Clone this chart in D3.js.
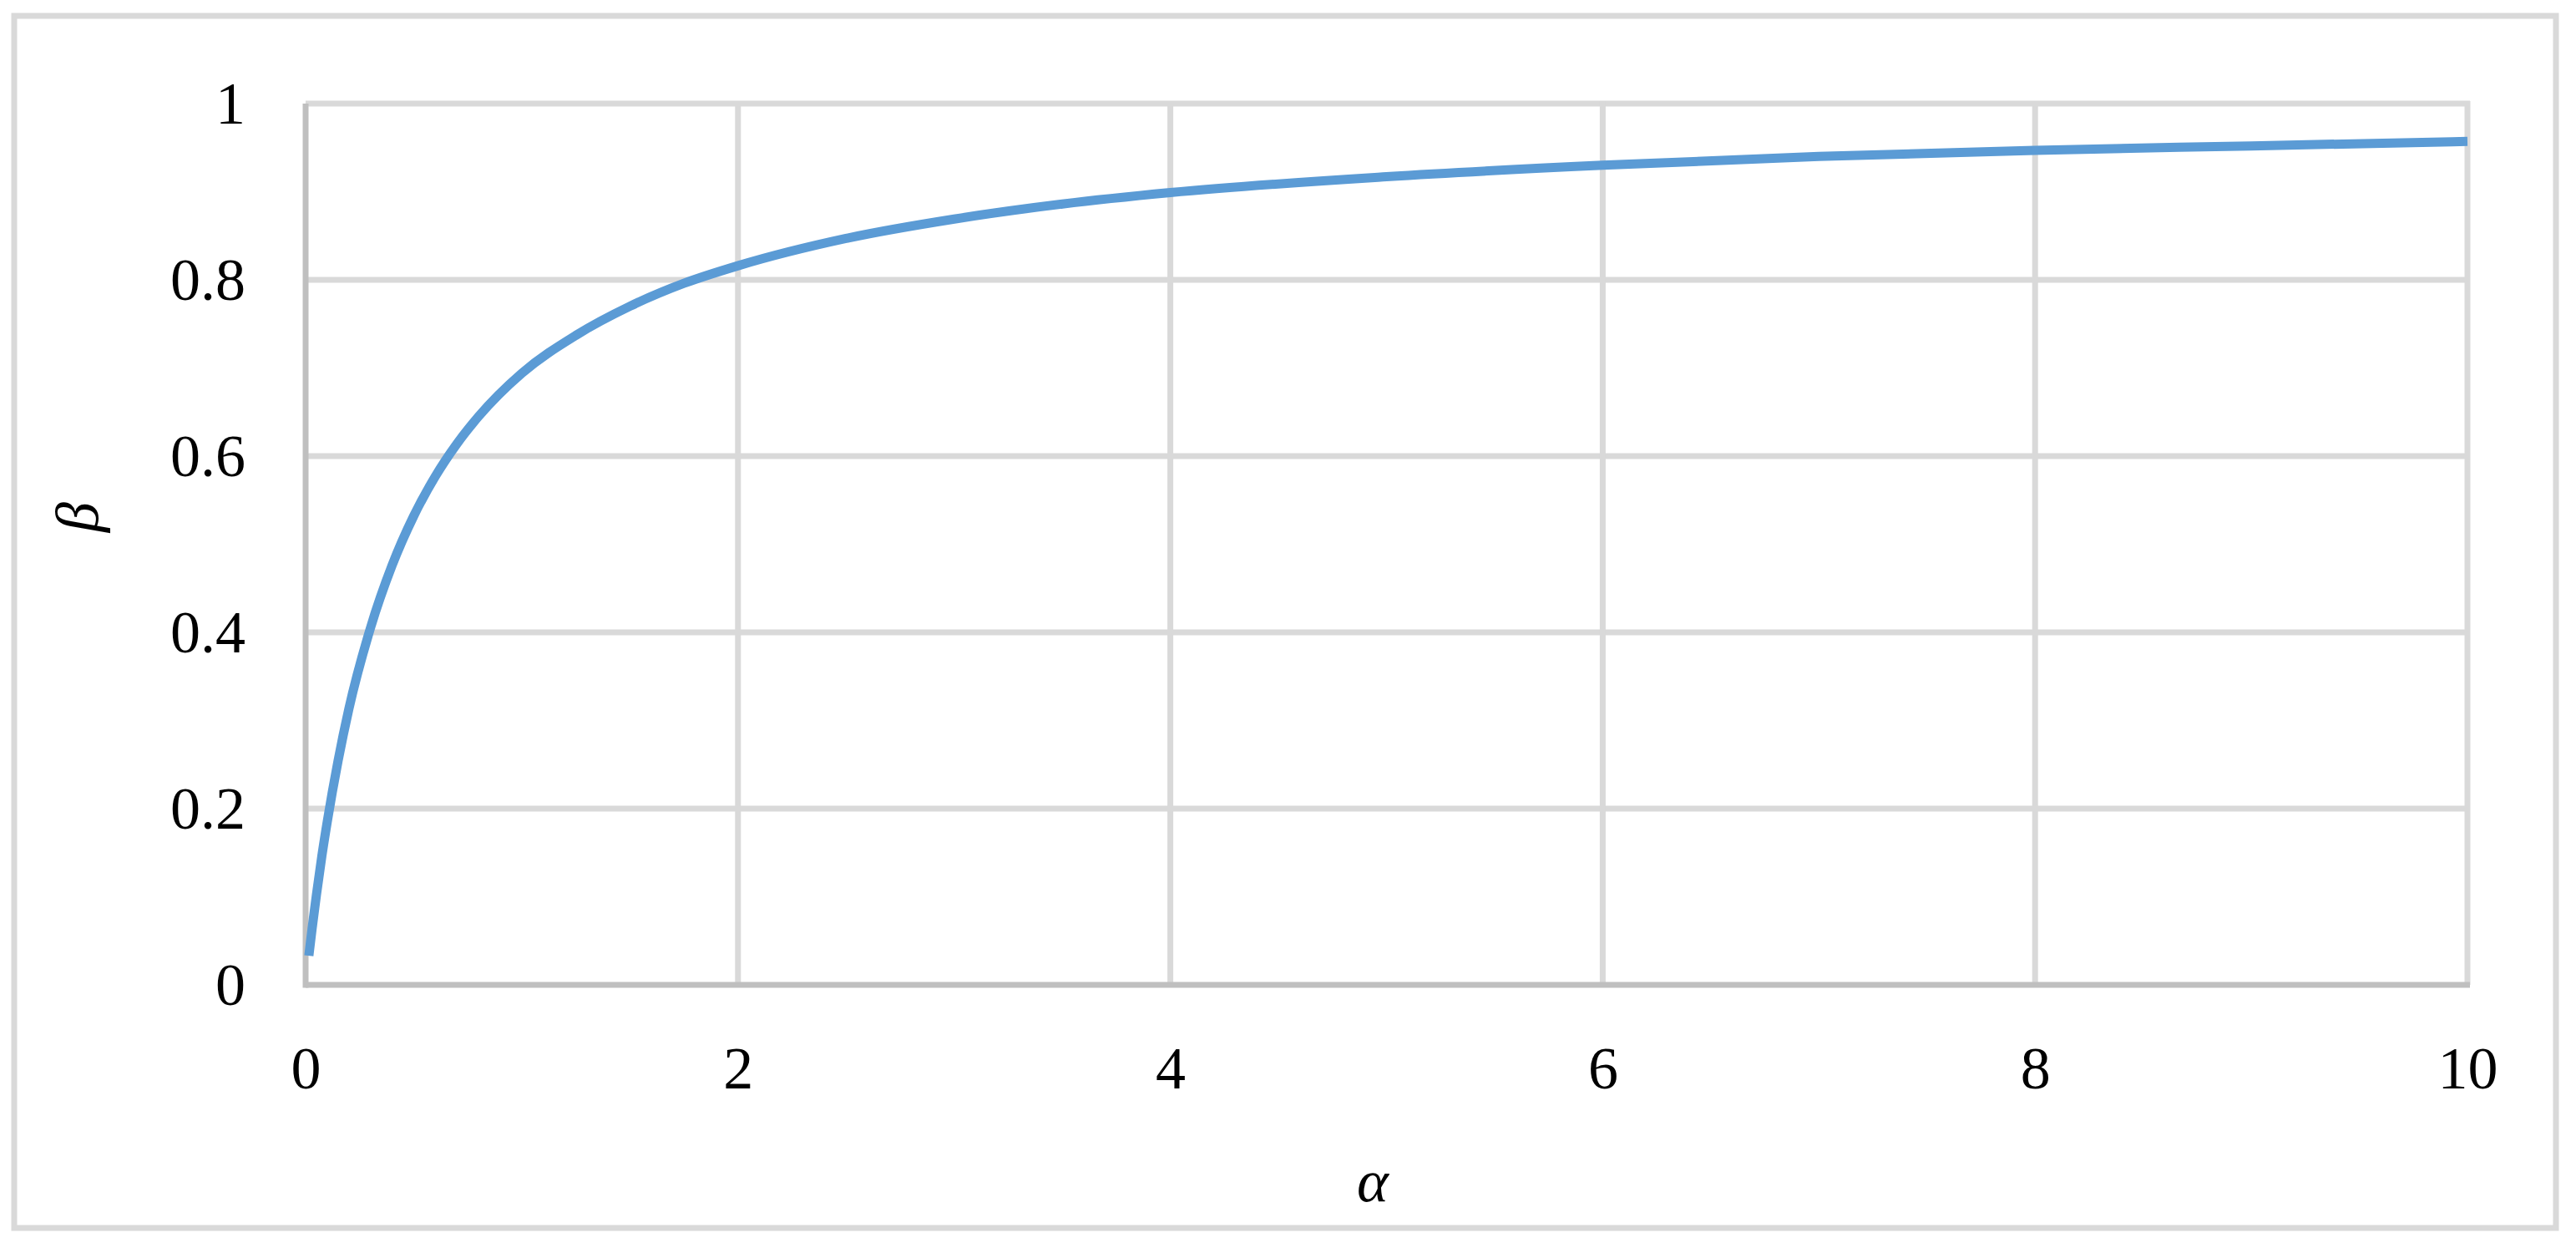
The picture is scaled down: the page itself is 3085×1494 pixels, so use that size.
<!DOCTYPE html>
<html>
<head>
<meta charset="utf-8">
<script src="https://cdn.jsdelivr.net/npm/d3@7"></script>
<style>
  body { margin: 0; background: #fff; }
  svg { display: block; }
  .tick text { font-family: "Liberation Serif", serif; font-size: 72px; fill: #000; }
</style>
</head>
<body>
<svg id="chart" width="3085" height="1494"></svg>
<script>
// values
var alpha = [0.015, 0.03, 0.05, 0.075, 0.1, 0.15, 0.2, 0.3, 0.4, 0.5, 0.6, 0.7, 0.8, 1.0, 1.25, 1.5, 1.75, 2, 2.5, 3, 3.5, 4, 5, 6, 7, 8, 9, 10];
var beta  = [0.033, 0.064, 0.102, 0.146, 0.185, 0.254, 0.313, 0.405, 0.476, 0.532, 0.577, 0.614, 0.645, 0.694, 0.737, 0.770, 0.796, 0.816, 0.847, 0.869, 0.886, 0.899, 0.917, 0.930, 0.940, 0.947, 0.952, 0.957];
var xTicks = [0, 2, 4, 6, 8, 10];
var yTicks = [0, 0.2, 0.4, 0.6, 0.8, 1];

var svg = d3.select("#chart");
var plotL = 366, plotR = 2955, plotT = 124, plotB = 1179;

var x = d3.scaleLinear().domain([0, 10]).range([plotL, plotR]);
var y = d3.scaleLinear().domain([0, 1]).range([plotB, plotT]);

// outer frame
svg.append("rect")
    .attr("x", 17).attr("y", 19)
    .attr("width", 3044).attr("height", 1451)
    .attr("fill", "none")
    .attr("stroke", "#d9d9d9")
    .attr("stroke-width", 7);

// grid
var grid = svg.append("g").attr("stroke", "#d9d9d9").attr("stroke-width", 7);
grid.selectAll(".h").data(yTicks.filter(function(d) { return d > 0; }))
  .enter().append("line")
    .attr("x1", plotL).attr("x2", plotR + 3)
    .attr("y1", function(d) { return y(d); })
    .attr("y2", function(d) { return y(d); });
grid.selectAll(".v").data(xTicks.filter(function(d) { return d > 0; }))
  .enter().append("line")
    .attr("y1", plotT - 3).attr("y2", plotB)
    .attr("x1", function(d) { return x(d); })
    .attr("x2", function(d) { return x(d); });

// axis lines
svg.append("line")
    .attr("x1", plotL).attr("x2", plotL)
    .attr("y1", plotT).attr("y2", plotB + 3.5)
    .attr("stroke", "#bfbfbf").attr("stroke-width", 7);
svg.append("line")
    .attr("x1", plotL).attr("x2", plotR + 3)
    .attr("y1", plotB).attr("y2", plotB)
    .attr("stroke", "#bfbfbf").attr("stroke-width", 7);

// tick labels
var xAxis = svg.append("g")
    .attr("transform", "translate(0," + plotB + ")")
    .call(d3.axisBottom(x).tickValues(xTicks).tickSize(0).tickPadding(73).tickFormat(d3.format("d")));
xAxis.select(".domain").remove();

var yAxis = svg.append("g")
    .attr("transform", "translate(" + plotL + ",0)")
    .call(d3.axisLeft(y).tickValues(yTicks).tickSize(0).tickPadding(72).tickFormat(function(d) { return String(d); }));
yAxis.select(".domain").remove();

// the curve
var pts = alpha.map(function(a, i) { return [a, beta[i]]; });
var line = d3.line()
    .x(function(d) { return x(d[0]); })
    .y(function(d) { return y(d[1]); })
    .curve(d3.curveMonotoneX);

svg.append("path")
    .datum(pts)
    .attr("d", line)
    .attr("fill", "none")
    .attr("stroke", "#5b9bd5")
    .attr("stroke-width", 11);

// axis titles
svg.append("text")
    .attr("x", 1644).attr("y", 1438)
    .attr("text-anchor", "middle")
    .attr("font-family", "Liberation Serif, serif")
    .attr("font-style", "italic")
    .attr("font-size", 72)
    .text("α");

svg.append("text")
    .attr("transform", "translate(117,619) rotate(-90)")
    .attr("text-anchor", "middle")
    .attr("font-family", "Liberation Serif, serif")
    .attr("font-style", "italic")
    .attr("font-size", 72)
    .text("β");
</script>
</body>
</html>
